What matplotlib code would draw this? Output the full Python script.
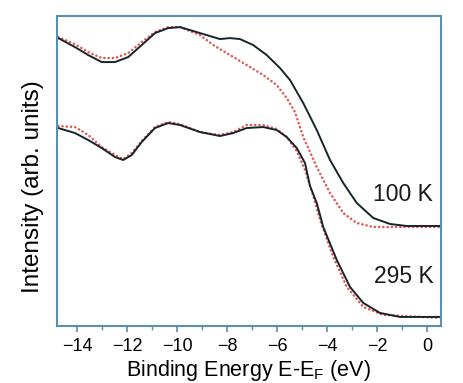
#Photoemission spectra at two temperatures, recreated from a figure.

#Importing packages to use required functions.
import matplotlib
matplotlib.use("Agg")
import matplotlib.pyplot as plt
from matplotlib.ticker import MultipleLocator

#Selecting the font to be used in the figure.
matplotlib.rc('font', family=['Liberation Sans', 'DejaVu Sans'])

#Binding energies (eV) and intensities.
E_100_black = [-14.75, -14.08, -13.55, -13.01, -12.48, -11.95, -11.41, -10.88,
               -10.35, -9.88, -9.08, -8.28, -7.88, -7.48, -6.95, -6.41, -5.88,
               -5.48, -4.95, -4.41, -3.88, -3.35, -2.81, -2.15, -1.48, -0.81, 0.52]
I_100_black = [28.8, 27.9, 27.1, 26.4, 26.4, 26.9, 28.1, 29.3,
               29.8, 29.9, 29.3, 28.7, 28.8, 28.7, 28.1, 27.1, 25.8,
               24.6, 22.3, 19.6, 16.6, 14.3, 12.3, 10.8, 10.2, 10.0, 10.0]

E_100_red = [-14.75, -14.08, -13.55, -13.01, -12.48, -11.95, -11.41, -10.88,
             -10.35, -9.88, -9.08, -8.55, -7.88, -7.21, -6.55, -6.01, -5.61,
             -5.28, -4.95, -4.41, -3.88, -3.35, -2.81, -2.15, -1.48, 0.52]
I_100_red = [28.9, 28.2, 27.4, 26.8, 26.8, 27.3, 28.4, 29.4,
             29.9, 29.9, 29.1, 28.1, 27.1, 26.1, 25.1, 24.1, 22.8,
             21.4, 18.9, 15.9, 13.3, 11.3, 10.3, 9.9, 9.9, 9.9]

E_295_black = [-14.75, -14.08, -13.55, -13.01, -12.48, -12.15, -11.81, -11.41,
               -10.88, -10.35, -9.88, -9.08, -8.28, -7.75, -7.21, -6.55, -6.01,
               -5.61, -5.21, -4.88, -4.68, -4.41, -4.15, -3.61, -3.08, -2.55,
               -1.88, -1.08, 0.52]
I_295_black = [19.8, 19.3, 18.6, 17.8, 16.9, 16.6, 17.1, 18.4,
               19.8, 20.3, 20.1, 19.4, 19.0, 19.3, 19.8, 19.9, 19.6,
               18.9, 17.8, 16.3, 14.0, 12.3, 9.9, 6.6, 3.9, 2.3,
               1.3, 0.9, 0.9]

E_295_red = [-14.75, -14.08, -13.55, -13.01, -12.48, -12.15, -11.81, -11.41,
             -10.88, -10.35, -9.88, -9.08, -8.28, -7.75, -7.21, -6.55, -6.01,
             -5.61, -5.21, -4.88, -4.55, -4.28, -3.75, -3.21, -2.55, -1.75, 0.52]
I_295_red = [20.0, 19.9, 19.1, 17.9, 17.1, 16.7, 17.3, 18.5,
             19.9, 20.4, 20.2, 19.4, 19.1, 19.4, 20.1, 20.1, 19.7,
             18.9, 17.5, 15.6, 13.0, 10.6, 6.9, 3.9, 1.9, 1.1, 0.8]

labels = ["100 K", "295 K"]
label_E = [0.25, 0.25]
label_I = [13.1, 4.9]

#Figure and axes placement.
fig = plt.figure(figsize=(4.63, 3.83), dpi=100)
ax = fig.add_axes([0.123, 0.149, 0.829, 0.809])

axis_col = '#5b8fae'
line_col = '#15252b'
red_col = '#e0473f'

#Red (dotted) spectra first, black on top.
for E, I in [(E_100_red, I_100_red), (E_295_red, I_295_red)]:
    ax.plot(E, I, color=red_col, linestyle=(0, (0.1, 1.6)), linewidth=1.8,
            dash_capstyle='round', alpha=0.9)
for E, I in [(E_100_black, I_100_black), (E_295_black, I_295_black)]:
    ax.plot(E, I, color=line_col, linewidth=1.4)

#Temperature labels.
for t, x, y in zip(labels, label_E, label_I):
    ax.text(x, y, t, ha='right', va='center', fontsize=16.5, color='#1a1a1a')

#Axes limits and ticks.
ax.set_xlim(-14.8, 0.55)
ax.set_ylim(0, 31)
ax.xaxis.set_major_locator(MultipleLocator(2))
ax.xaxis.set_minor_locator(MultipleLocator(1))
ax.tick_params(axis='x', which='both', direction='out', color=axis_col,
               labelsize=13, pad=5)
ax.tick_params(axis='x', which='major', length=4, width=1.2)
ax.tick_params(axis='x', which='minor', length=3, width=1.0)
ax.set_yticks([])
for s in ax.spines.values():
    s.set_color(axis_col)
    s.set_linewidth(1.5)

#Labeling the axes.
ax.set_xlabel("Binding Energy E-E$_\\mathregular{F}$ (eV)", fontsize=15.5)
ax.xaxis.set_label_coords(0.5, -0.104)
ax.set_ylabel("Intensity (arb. units)", fontsize=17.5)
ax.yaxis.set_label_coords(-0.035, 0.45)

#Figure saved.
fig.savefig("out.png", dpi=100)
